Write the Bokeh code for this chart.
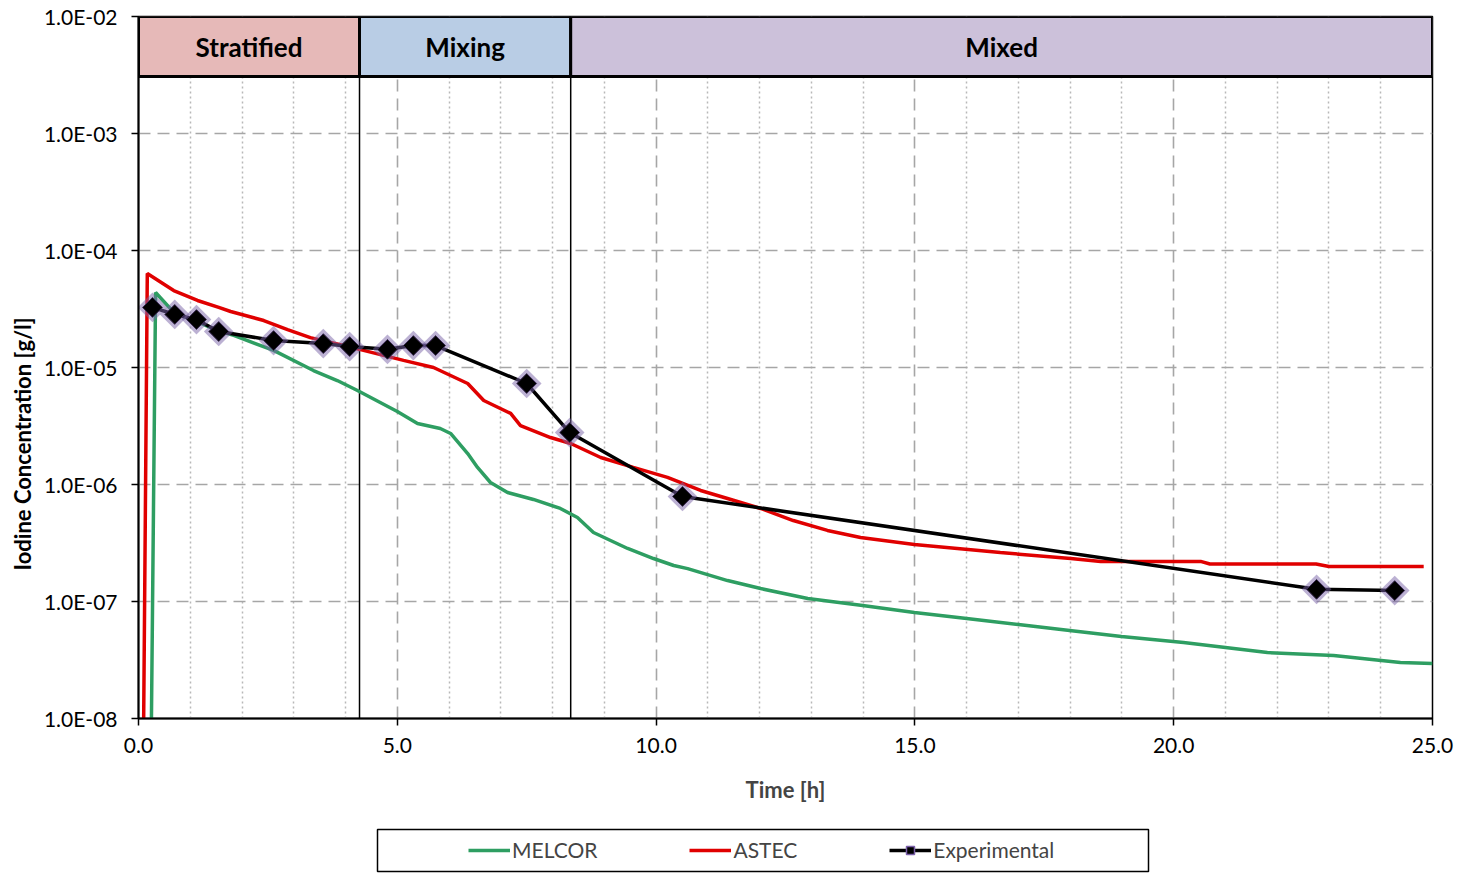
import numpy as np
from bokeh.plotting import figure
from bokeh.models import (Range1d, FixedTicker, CustomJSTickFormatter, NumeralTickFormatter,
                          Span, Title, Legend, LegendItem, ColumnDataSource, BoxAnnotation)
from bokeh.layouts import column
from bokeh.embed import file_html
from bokeh.resources import INLINE
from bokeh.core.properties import value

FONT = "Lato"

# Iodine concentration in the sump [g/l] versus time [h]
melcor_t = [0.25, 0.33, 0.70, 1.10, 1.55, 1.84, 2.61, 3.38, 3.84, 4.23, 5.00, 5.39, 5.83,
            6.03, 6.36, 6.55, 6.80, 7.13, 7.63, 8.15, 8.48, 8.79, 9.45, 9.95, 10.34, 10.61,
            11.38, 12.02, 12.93, 13.99, 14.99, 16.00, 17.00, 17.99, 18.99, 20.19, 21.81,
            23.09, 24.38, 25.00]
melcor_c = [1.0e-8, 4.38e-5, 2.90e-5, 2.50e-5, 2.05e-5, 1.88e-5, 1.40e-5, 9.42e-6, 7.74e-6,
            6.36e-6, 4.21e-6, 3.32e-6, 3.01e-6, 2.73e-6, 1.84e-6, 1.40e-6, 1.04e-6, 8.55e-7,
            7.45e-7, 6.24e-7, 5.22e-7, 3.89e-7, 2.84e-7, 2.33e-7, 2.03e-7, 1.91e-7, 1.51e-7,
            1.29e-7, 1.06e-7, 9.25e-8, 8.05e-8, 7.16e-8, 6.36e-8, 5.65e-8, 5.02e-8, 4.46e-8,
            3.66e-8, 3.45e-8, 3.01e-8, 2.95e-8]

astec_t = [0.10, 0.17, 0.68, 1.14, 1.55, 1.78, 2.42, 2.88, 3.32, 4.27, 5.12, 5.70, 6.36,
           6.67, 7.19, 7.38, 7.96, 8.35, 8.93, 9.56, 10.22, 10.86, 11.38, 12.02, 12.65,
           13.31, 13.95, 14.99, 16.65, 18.01, 18.59, 20.52, 20.70, 22.75, 23.00, 24.83]
astec_c = [1.0e-8, 6.36e-5, 4.55e-5, 3.74e-5, 3.26e-5, 3.01e-5, 2.52e-5, 2.11e-5, 1.80e-5,
           1.43e-5, 1.15e-5, 1.0e-5, 7.30e-6, 5.22e-6, 4.05e-6, 3.19e-6, 2.52e-6, 2.24e-6,
           1.70e-6, 1.40e-6, 1.15e-6, 8.89e-7, 7.59e-7, 6.24e-7, 4.92e-7, 4.05e-7, 3.52e-7,
           3.07e-7, 2.62e-7, 2.33e-7, 2.20e-7, 2.20e-7, 2.09e-7, 2.09e-7, 1.99e-7, 1.99e-7]

exp_t = [0.27, 0.70, 1.12, 1.55, 2.61, 3.57, 4.08, 4.81, 5.31, 5.74, 7.50, 8.33, 10.51,
         22.76, 24.27]
exp_c = [3.26e-5, 2.84e-5, 2.57e-5, 2.03e-5, 1.70e-5, 1.60e-5, 1.51e-5, 1.43e-5, 1.54e-5,
         1.54e-5, 7.3e-6, 2.78e-6, 7.9e-7, 1.27e-7, 1.24e-7]

# Test phases
phase_names = ["Stratified", "Mixing", "Mixed"]
phase_start = [0.0, 4.27, 8.35]
phase_end = [4.27, 8.35, 25.0]
phase_fill = ["#E6B9B8", "#B9CDE5", "#CCC1DA"]

x_ticks = [0, 5, 10, 15, 20, 25]
x_minor = [h for h in range(26) if h % 5]
y_ticks = [1e-8, 1e-7, 1e-6, 1e-5, 1e-4, 1e-3, 1e-2]

GREEN = "#2E9E62"
RED = "#E00000"
GLOW = "#7A64A8"
LW = 3.5

band_top = 1e-2
band_bottom = 10 ** -2.513

p = figure(width=1477, height=820, x_range=Range1d(0, 25), y_range=Range1d(1e-8, 1e-2),
           y_axis_type="log", output_backend="svg", toolbar_location=None,
           min_border_left=138, min_border_right=45, min_border_top=16, min_border_bottom=102)
p.background_fill_color = "white"
p.border_fill_color = "white"
p.outline_line_color = "black"
p.outline_line_width = 1.5

# axes
p.xaxis.ticker = FixedTicker(ticks=x_ticks)
p.xaxis.formatter = NumeralTickFormatter(format="0.0")
p.yaxis.ticker = FixedTicker(ticks=y_ticks)
p.yaxis.formatter = CustomJSTickFormatter(code="""
    const e = Math.round(Math.log10(tick));
    const m = tick / Math.pow(10, e);
    const a = Math.abs(e);
    return m.toFixed(1) + 'E' + (e < 0 ? '-' : '+') + (a < 10 ? '0' : '') + a;
""")
for ax in (p.xaxis, p.yaxis):
    ax.major_tick_out = 7
    ax.major_tick_in = 0
    ax.minor_tick_line_color = None
    ax.axis_line_color = "black"
    ax.axis_line_width = 2
    ax.major_tick_line_color = "black"
    ax.major_tick_line_width = 1.5
    ax.major_label_text_font = FONT
    ax.major_label_text_font_size = "21px"
    ax.major_label_text_color = "black"
p.xaxis.major_label_standoff = 12
p.yaxis.major_label_standoff = 14
p.xaxis.axis_label = "Time [h]"
p.xaxis.axis_label_text_font = FONT
p.xaxis.axis_label_text_font_style = "bold"
p.xaxis.axis_label_text_font_size = "22px"
p.xaxis.axis_label_standoff = 20

# y title, shifted toward the lower part of the axis
p.add_layout(Title(text="Iodine Concentration [g/l]", align="left", offset=148,
                   text_font=FONT, text_font_style="bold", text_font_size="22px",
                   text_color="black", standoff=10), "left")

# grids
p.xgrid.ticker = FixedTicker(ticks=x_ticks, minor_ticks=x_minor)
p.ygrid.ticker = FixedTicker(ticks=y_ticks)
for g in (p.xgrid, p.ygrid):
    g.grid_line_color = "#A6A6A6"
    g.grid_line_width = 1.6
    g.grid_line_dash = "12 7"
p.xgrid.minor_grid_line_color = "#B8B8B8"
p.xgrid.minor_grid_line_width = 1.5
p.xgrid.minor_grid_line_dash = "2 3"

# phase boundaries
for t in phase_start[1:]:
    p.add_layout(Span(location=t, dimension="height", line_color="black", line_width=1.5,
                      level="underlay"))

# phase band
band = ColumnDataSource(dict(
    left=phase_start, right=phase_end, fill=phase_fill, name=phase_names,
    mid=[(a + b) / 2 for a, b in zip(phase_start, phase_end)],
))
p.quad(left="left", right="right", bottom=band_bottom, top=band_top, fill_color="fill",
       line_color="black", line_width=3, source=band)
p.text(x="mid", y=np.sqrt(band_top * band_bottom), text="name", source=band,
       text_font=value(FONT), text_font_style="bold", text_font_size="26px",
       text_align="center", text_baseline="middle", text_color="black")

# series
p.line(melcor_t, melcor_c, line_color=GREEN, line_width=LW)
p.line(astec_t, astec_c, line_color=RED, line_width=LW)
p.line(exp_t, exp_c, line_color="black", line_width=LW)
p.scatter(exp_t, exp_c, marker="square", angle=np.pi / 4, size=21,
          fill_color=GLOW, fill_alpha=0.5, line_color=None)
p.scatter(exp_t, exp_c, marker="square", angle=np.pi / 4, size=14,
          fill_color="black", line_color="#3B2A55", line_width=1)

# legend panel below the chart
lg = figure(width=1477, height=54, x_range=Range1d(0, 1), y_range=Range1d(0, 1),
            x_axis_type=None, y_axis_type=None, output_backend="svg", toolbar_location=None,
            min_border_left=138, min_border_right=45, min_border_top=0, min_border_bottom=0)
lg.background_fill_color = "white"
lg.border_fill_color = "white"
lg.outline_line_color = None
lg.add_layout(BoxAnnotation(left=239, right=1010, bottom=3, top=45,
                            left_units="screen", right_units="screen",
                            bottom_units="screen", top_units="screen",
                            fill_alpha=0, line_color="black", line_alpha=1, line_width=1.5))
nan = [float("nan")]
r_m = lg.line(nan, nan, line_color=GREEN, line_width=LW)
r_a = lg.line(nan, nan, line_color=RED, line_width=LW)
r_e = lg.line(nan, nan, line_color="black", line_width=LW)
r_s = lg.scatter(nan, nan, marker="square", angle=np.pi / 4, size=11,
                 fill_color="black", line_color="#7A5FA8", line_width=1.5)
legend = Legend(items=[LegendItem(label="MELCOR", renderers=[r_m]),
                       LegendItem(label="ASTEC", renderers=[r_a]),
                       LegendItem(label="Experimental", renderers=[r_e, r_s])],
                orientation="horizontal", location=(330, 12), spacing=92,
                glyph_width=42, glyph_height=20, label_standoff=2, padding=0, margin=0,
                border_line_alpha=0, background_fill_alpha=0,
                label_text_font=FONT, label_text_font_size="21px")
lg.add_layout(legend)

layout = column(p, lg, spacing=0)
open("out.html", "w").write(file_html(layout, INLINE))
